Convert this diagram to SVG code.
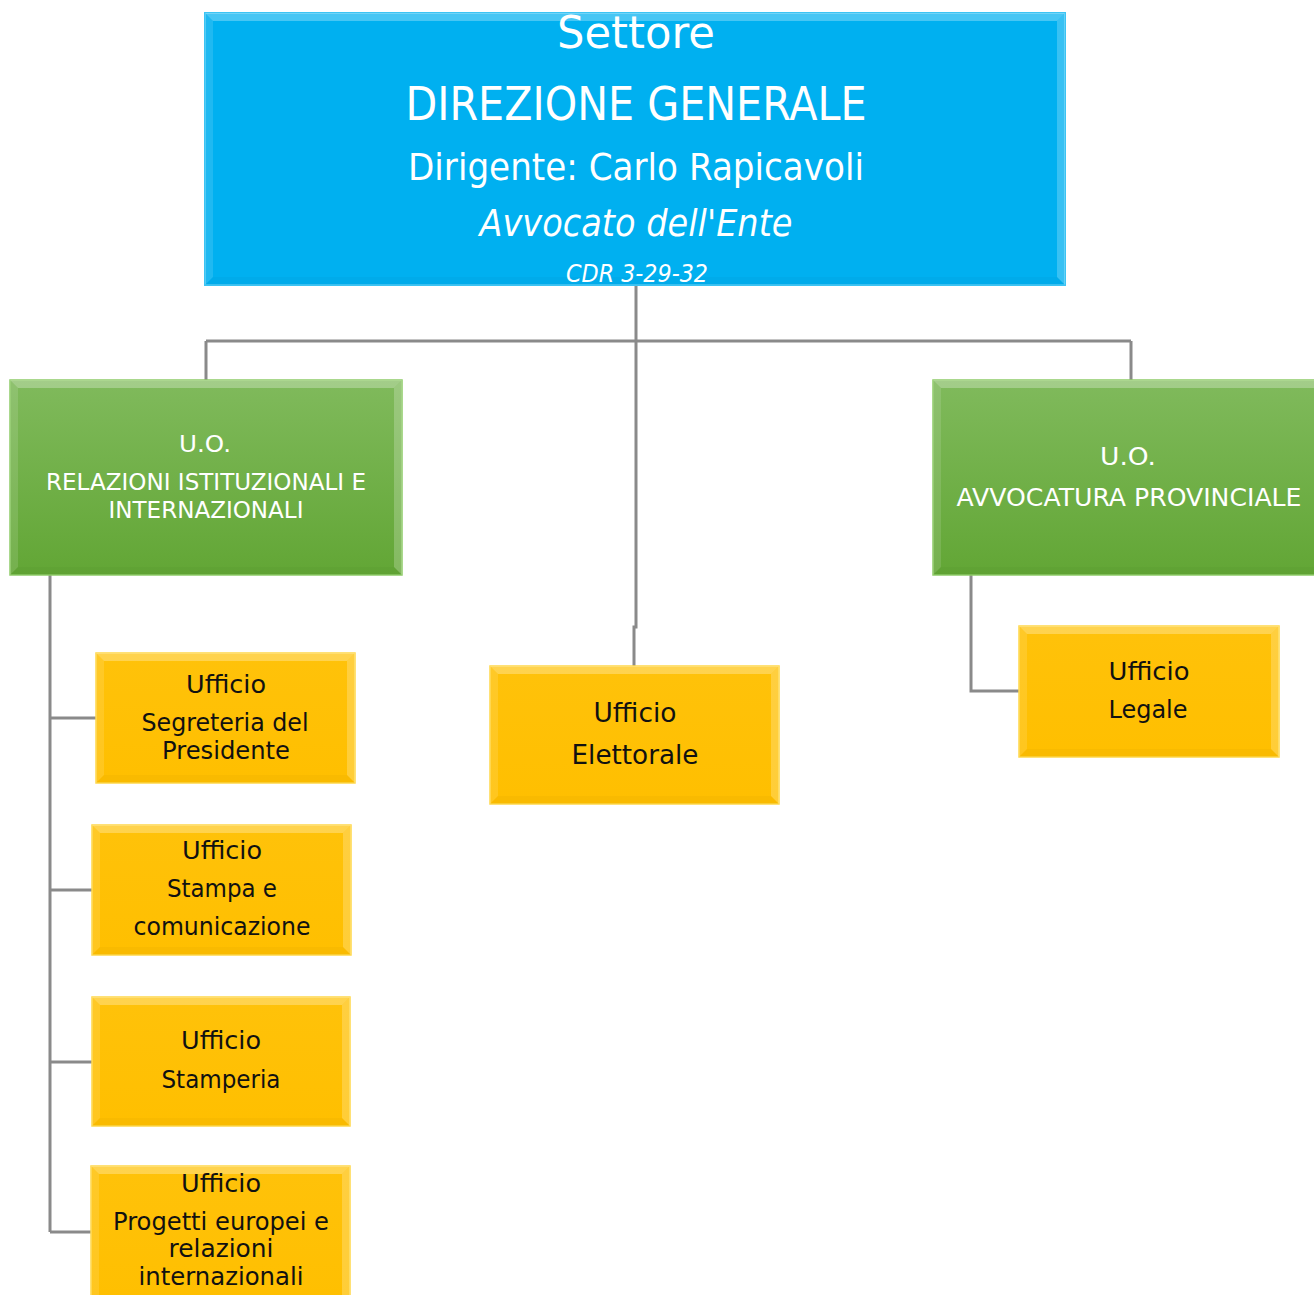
<svg xmlns="http://www.w3.org/2000/svg" width="1314" height="1295" viewBox="0 0 1314 1295">
<defs>
<linearGradient id="gGreen" x1="0" y1="0" x2="0" y2="1">
<stop offset="0" stop-color="#80ba5c"/>
<stop offset="1" stop-color="#62a635"/>
</linearGradient>
<linearGradient id="gYellow" x1="0" y1="0" x2="0" y2="1">
<stop offset="0" stop-color="#ffc20a"/>
<stop offset="1" stop-color="#ffbf00"/>
</linearGradient>
</defs>
<style>
.blue{fill:#00b0f0;stroke:#3cc4f4;stroke-width:2}
.green{fill:url(#gGreen);stroke:#8fcc68;stroke-width:1.5}
.yellow{fill:url(#gYellow);stroke:#ffd84a;stroke-width:1.5}
.bt{fill:#ffffff;fill-opacity:0.28}
.bl{fill:#ffffff;fill-opacity:0.12}
.br{fill:#ffffff;fill-opacity:0.22}
.bb{fill:#000000;fill-opacity:0.025}
.conn{fill:none;stroke:#8a8a8a;stroke-width:3}
text{font-family:"DejaVu Sans","Noto Sans",sans-serif;text-anchor:middle}
.w{fill:#ffffff}
.k{fill:#111111}
.it{font-style:italic}
</style>

<g id="connectors">
<path class="conn" d="M636 285 V341 M206 341 H1131 M206 341 V380 M1131 341 V380 M636 341 V627 H634 V666"/>
<path class="conn" d="M50 575 V1232 M50 718 H96 M50 890 H92 M50 1062 H92 M50 1232 H91"/>
<path class="conn" d="M971 575 V691 H1019"/>
</g>

<g id="node-direzione">
<rect class="blue" x="205" y="13" width="860" height="272"/>
<polygon class="bt" points="205,13 1065,13 1057,21 213,21"/>
<polygon class="bl" points="205,13 213,21 213,277 205,285"/>
<polygon class="br" points="1065,13 1065,285 1057,277 1057,21"/>
<polygon class="bb" points="205,285 213,277 1057,277 1065,285"/>
<text class="w" x="636" y="48" font-size="44" textLength="158" lengthAdjust="spacingAndGlyphs">Settore</text>
<text class="w" x="636" y="120" font-size="46" textLength="461" lengthAdjust="spacingAndGlyphs">DIREZIONE GENERALE</text>
<text class="w" x="636" y="180" font-size="38" textLength="456" lengthAdjust="spacingAndGlyphs">Dirigente: Carlo Rapicavoli</text>
<text class="w it" x="636" y="236" font-size="38" textLength="313" lengthAdjust="spacingAndGlyphs">Avvocato dell'Ente</text>
<text class="w it" x="637" y="282" font-size="25" textLength="142" lengthAdjust="spacingAndGlyphs">CDR 3-29-32</text>
</g>

<g id="node-uo-relazioni">
<rect class="green" x="10" y="380" width="392" height="195"/>
<polygon class="bt" points="10,380 402,380 394,388 18,388"/>
<polygon class="bl" points="10,380 18,388 18,567 10,575"/>
<polygon class="br" points="402,380 402,575 394,567 394,388"/>
<polygon class="bb" points="10,575 18,567 394,567 402,575"/>
<text class="w" x="205" y="452" font-size="23" textLength="52" lengthAdjust="spacingAndGlyphs">U.O.</text>
<text class="w" x="206" y="490" font-size="23" textLength="320" lengthAdjust="spacingAndGlyphs">RELAZIONI ISTITUZIONALI E</text>
<text class="w" x="206" y="518" font-size="23" textLength="195" lengthAdjust="spacingAndGlyphs">INTERNAZIONALI</text>
</g>

<g id="node-uo-avvocatura">
<rect class="green" x="933" y="380" width="390" height="195"/>
<polygon class="bt" points="933,380 1323,380 1315,388 941,388"/>
<polygon class="bl" points="933,380 941,388 941,567 933,575"/>
<polygon class="bb" points="933,575 941,567 1315,567 1323,575"/>
<text class="w" x="1128" y="465" font-size="25" textLength="56" lengthAdjust="spacingAndGlyphs">U.O.</text>
<text class="w" x="1129" y="506" font-size="25" textLength="345" lengthAdjust="spacingAndGlyphs">AVVOCATURA PROVINCIALE</text>
</g>

<g id="node-segreteria">
<rect class="yellow" x="96" y="653" width="259" height="130"/>
<polygon class="bt" points="96,653 355,653 347,661 104,661"/>
<polygon class="bl" points="96,653 104,661 104,775 96,783"/>
<polygon class="br" points="355,653 355,783 347,775 347,661"/>
<polygon class="bb" points="96,783 104,775 347,775 355,783"/>
<text class="k" x="226" y="693" font-size="24" textLength="80" lengthAdjust="spacingAndGlyphs">Ufficio</text>
<text class="k" x="225" y="731" font-size="24" textLength="167" lengthAdjust="spacingAndGlyphs">Segreteria del</text>
<text class="k" x="226" y="759" font-size="24" textLength="128" lengthAdjust="spacingAndGlyphs">Presidente</text>
</g>

<g id="node-stampa">
<rect class="yellow" x="92" y="825" width="259" height="130"/>
<polygon class="bt" points="92,825 351,825 343,833 100,833"/>
<polygon class="bl" points="92,825 100,833 100,947 92,955"/>
<polygon class="br" points="351,825 351,955 343,947 343,833"/>
<polygon class="bb" points="92,955 100,947 343,947 351,955"/>
<text class="k" x="222" y="859" font-size="24" textLength="80" lengthAdjust="spacingAndGlyphs">Ufficio</text>
<text class="k" x="222" y="897" font-size="24" textLength="110" lengthAdjust="spacingAndGlyphs">Stampa e</text>
<text class="k" x="222" y="935" font-size="24" textLength="177" lengthAdjust="spacingAndGlyphs">comunicazione</text>
</g>

<g id="node-stamperia">
<rect class="yellow" x="92" y="997" width="258" height="129"/>
<polygon class="bt" points="92,997 350,997 342,1005 100,1005"/>
<polygon class="bl" points="92,997 100,1005 100,1118 92,1126"/>
<polygon class="br" points="350,997 350,1126 342,1118 342,1005"/>
<polygon class="bb" points="92,1126 100,1118 342,1118 350,1126"/>
<text class="k" x="221" y="1049" font-size="24" textLength="80" lengthAdjust="spacingAndGlyphs">Ufficio</text>
<text class="k" x="221" y="1088" font-size="24" textLength="119" lengthAdjust="spacingAndGlyphs">Stamperia</text>
</g>

<g id="node-progetti">
<rect class="yellow" x="91" y="1166" width="259" height="140"/>
<polygon class="bt" points="91,1166 350,1166 342,1174 99,1174"/>
<polygon class="bl" points="91,1166 99,1174 99,1306 91,1306"/>
<polygon class="br" points="350,1166 350,1306 342,1306 342,1174"/>
<text class="k" x="221" y="1192" font-size="24" textLength="80" lengthAdjust="spacingAndGlyphs">Ufficio</text>
<text class="k" x="221" y="1230" font-size="24" textLength="216" lengthAdjust="spacingAndGlyphs">Progetti europei e</text>
<text class="k" x="221" y="1257" font-size="24" textLength="105" lengthAdjust="spacingAndGlyphs">relazioni</text>
<text class="k" x="221" y="1285" font-size="24" textLength="165" lengthAdjust="spacingAndGlyphs">internazionali</text>
</g>

<g id="node-elettorale">
<rect class="yellow" x="490" y="666" width="289" height="138"/>
<polygon class="bt" points="490,666 779,666 771,674 498,674"/>
<polygon class="bl" points="490,666 498,674 498,796 490,804"/>
<polygon class="br" points="779,666 779,804 771,796 771,674"/>
<polygon class="bb" points="490,804 498,796 771,796 779,804"/>
<text class="k" x="635" y="722" font-size="26" textLength="83" lengthAdjust="spacingAndGlyphs">Ufficio</text>
<text class="k" x="635" y="764" font-size="26" textLength="127" lengthAdjust="spacingAndGlyphs">Elettorale</text>
</g>

<g id="node-legale">
<rect class="yellow" x="1019" y="626" width="260" height="131"/>
<polygon class="bt" points="1019,626 1279,626 1271,634 1027,634"/>
<polygon class="bl" points="1019,626 1027,634 1027,749 1019,757"/>
<polygon class="br" points="1279,626 1279,757 1271,749 1271,634"/>
<polygon class="bb" points="1019,757 1027,749 1271,749 1279,757"/>
<text class="k" x="1149" y="680" font-size="24" textLength="81" lengthAdjust="spacingAndGlyphs">Ufficio</text>
<text class="k" x="1148" y="718" font-size="24" textLength="79" lengthAdjust="spacingAndGlyphs">Legale</text>
</g>
</svg>
